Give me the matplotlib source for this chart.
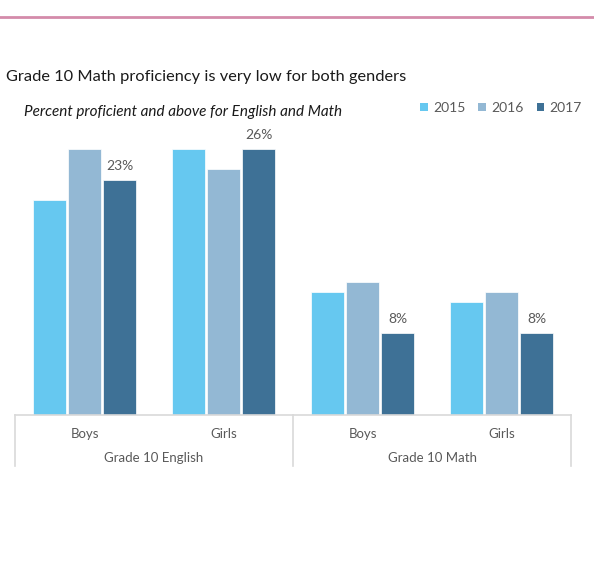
import matplotlib
matplotlib.use("Agg")
import matplotlib.pyplot as plt
import numpy as np
from matplotlib.lines import Line2D
from matplotlib.patches import Patch

categories = ["Boys", "Girls", "Boys", "Girls"]
groups = ["Grade 10 English", "Grade 10 Math"]
years = ["2015", "2016", "2017"]
v2015 = [21, 26, 12, 11]
v2016 = [26, 24, 13, 12]
v2017 = [23, 26, 8, 8]
labels2017 = ["23%", "26%", "8%", "8%"]
colors = ["#66C8F0", "#93B8D4", "#3E7196"]

plt.rcParams['font.family'] = ['Lato', 'DejaVu Sans']
W, H = 594, 563
fig = plt.figure(figsize=(W/100, H/100), dpi=100)

ax_l, ax_r = 15, 571
ax_bot, ax_top = 415, 130
ax = fig.add_axes([ax_l/W, 1 - ax_bot/H, (ax_r-ax_l)/W, (ax_bot-ax_top)/H])
px_per = 266/26.0
ax.set_ylim(0, (ax_bot-ax_top)/px_per)
ax.set_xlim(-0.5, 3.5)

x = np.arange(len(categories))
bw = 33/139
step = 35/139
series = [v2015, v2016, v2017]
for i, s in enumerate(series):
    ax.bar(x + (i-1)*step, s, width=bw, color=colors[i], edgecolor='white', linewidth=0.5, label=years[i])

for xi, v, lab in zip(x, v2017, labels2017):
    ax.text(xi + step, v + 0.8, lab, ha='center', va='bottom', fontsize=10, color='#595959')

for sp in ax.spines.values():
    sp.set_visible(False)
ax.set_yticks([])
ax.set_xticks(x)
ax.set_xticklabels(categories, fontsize=9.5, color='#595959')
ax.tick_params(axis='x', length=0, pad=9)

gc = '#D9D9D9'
tr = ax.get_xaxis_transform()
depth = -(466-415)/(ax_bot-ax_top)
ax.plot([-0.5, 3.5], [0, 0], transform=tr, color=gc, lw=1.2, clip_on=False)
for xv in [-0.5, 1.5, 3.5]:
    ax.plot([xv, xv], [0, depth], transform=tr, color=gc, lw=1.2, clip_on=False)
for gi, g in enumerate(groups):
    ax.text(0.5 + 2*gi, -(458-415)/(ax_bot-ax_top), g, transform=tr, ha='center', va='center',
            fontsize=9.5, color='#595959')

# top pink rule
fig.add_artist(Line2D([0, 1], [1 - 16.5/H, 1 - 16.5/H], transform=fig.transFigure, color='#D48BAA', lw=2))

fig.text(6/W, 1 - 77.5/H, "Grade 10 Math proficiency is very low for both genders", ha='left', va='center',
         fontsize=11.8, color='#1a1a1a')
fig.text(24/W, 1 - 112/H, "Percent proficient and above for English and Math", ha='left', va='center',
         fontsize=11, style='italic', color='#1a1a1a')

handles = [Patch(facecolor=c, edgecolor='none') for c in colors]
fig.legend(handles, years, loc='center right', bbox_to_anchor=(582/W, 1 - 108/H), ncol=3, frameon=False,
           fontsize=10, labelcolor='#595959', handlelength=0.55, handleheight=0.55, handletextpad=0.4,
           columnspacing=0.9, borderaxespad=0, borderpad=0)

fig.savefig("out.png", dpi=100, facecolor='white')
